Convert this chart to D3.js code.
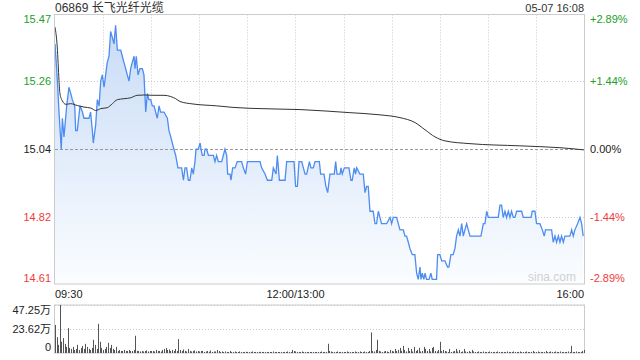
<!DOCTYPE html>
<html><head><meta charset="utf-8">
<script src="https://cdn.jsdelivr.net/npm/d3@7"></script>
<style>body{margin:0;background:#fff}svg{display:block}</style>
</head><body>
<svg id="c" width="640" height="360"></svg>
<script>
const title = "06869 长飞光纤光缆";
const stamp = "05-07 16:08";
const prevClose = 15.04;
const priceTicks = [15.47, 15.26, 15.04, 14.82, 14.61];
const pctTicks = ["+2.89%", "+1.44%", "0.00%", "-1.44%", "-2.89%"];
const timeLabels = ["09:30", "12:00/13:00", "16:00"];
const volTickLabels = ["47.25万", "23.62万", "0"];
const volMax = 47.25;

// minutes since 09:30 (lunch removed) and last price
const priceMin = [0,1.5,2.5,3.9,4.6,5.6,7.3,8.7,9.8,10.8,12.3,12.9,13.9,15.6,17.1,18.1,21.2,22.2,23.3,23.9,25.4,26.4,27.5,28.5,29.5,30.6,31.6,32.6,33.7,34.7,35.8,36.8,37.8,38.9,41.0,42.0,43.0,44.1,45.1,46.2,47.2,48.2,49.3,49.9,50.7,51.8,53.0,54.5,55.5,56.6,57.6,58.6,59.7,60.7,61.8,62.8,63.8,64.9,65.9,68.0,70.1,71.1,72.2,74.2,75.3,76.7,
78.0,79.0,80.1,81.1,82.1,83.2,84.2,85.3,86.3,87.3,88.0,89.4,90.5,91.1,91.9,93.0,93.6,94.6,95.7,98.8,99.8,100.8,101.9,104.0,105.0,106.0,107.1,107.7,109.2,109.8,110.8,112.3,113.7,116.4,117.5,118.9,120.0,127.9,128.9,131.0,132.5,135.2,136.2,137.9,138.7,140.0,143.5,144.5,149.1,150.1,151.2,152.2,153.9,156.0,157.0,158.7,159.7,161.1,162.2,164.9,165.7,167.8,169.0,170.1,
171.5,174.2,175.1,175.9,177.8,178.4,179.2,180.5,183.4,184.6,185.4,186.7,187.5,188.2,190.2,192.3,193.4,194.4,195.4,196.5,197.5,198.5,199.6,200.6,201.7,202.7,203.7,206.9,209.0,210.0,211.0,213.1,215.2,217.3,218.3,219.3,220.4,221.4,222.9,224.5,225.6,226.6,227.7,228.3,229.1,230.1,230.8,231.8,233.3,234.5,235.3,238.0,238.7,240.1,241.2,243.2,244.9,245.7,247.0,248.4,249.5,
250.5,251.6,252.6,253.7,254.7,255.7,256.8,257.8,258.9,265.7,267.2,268.2,269.3,270.3,276.5,277.6,278.6,279.6,280.7,281.7,282.8,283.8,284.8,285.9,286.9,288.0,291.1,292.1,297.0,297.7,299.4,300.4,302.5,304.0,305.2,306.0,309.8,310.8,311.9,312.9,314.0,315.0,316.0,317.1,318.1,321.2,322.3,323.3,324.3,326.0,327.5,328.5,329.5];
const priceVal = [15.38,15.26,15.16,15.04,15.14,15.08,15.18,15.24,15.22,15.20,15.18,15.10,15.10,15.18,15.16,15.14,15.14,15.16,15.10,15.06,15.12,15.20,15.18,15.26,15.28,15.24,15.28,15.32,15.34,15.42,15.40,15.38,15.44,15.36,15.36,15.34,15.32,15.30,15.28,15.26,15.30,15.32,15.34,15.30,15.34,15.28,15.30,15.30,15.28,15.16,15.22,15.20,15.20,15.18,15.18,15.16,15.14,15.18,15.16,15.16,15.14,15.10,15.08,15.04,15.02,14.98,
14.98,14.98,14.94,14.98,14.98,14.94,14.94,14.98,14.96,15.00,15.04,15.04,15.06,15.04,15.02,15.02,15.04,15.04,15.02,15.02,15.00,15.02,15.00,15.00,15.02,15.04,15.02,14.96,14.96,14.94,14.98,14.98,15.00,15.00,14.98,14.96,15.00,15.00,14.98,14.96,14.94,14.94,14.98,14.96,15.02,14.94,14.94,15.00,15.00,14.92,14.92,15.00,15.00,14.96,14.96,15.00,14.98,14.98,15.00,15.00,14.96,14.96,14.92,14.90,
14.96,14.96,15.00,14.96,14.96,14.98,14.96,14.98,14.98,14.94,14.94,14.98,14.96,14.98,14.96,14.96,14.90,14.92,14.92,14.84,14.84,14.84,14.80,14.80,14.84,14.82,14.80,14.80,14.82,14.80,14.82,14.82,14.78,14.78,14.76,14.76,14.74,14.72,14.70,14.70,14.64,14.62,14.66,14.62,14.64,14.62,14.64,14.62,14.62,14.64,14.62,14.62,14.70,14.70,14.68,14.68,14.66,14.66,14.70,14.70,14.72,
14.76,14.78,14.76,14.80,14.76,14.78,14.80,14.78,14.76,14.76,14.80,14.80,14.84,14.82,14.82,14.86,14.86,14.82,14.84,14.82,14.84,14.82,14.84,14.82,14.82,14.84,14.84,14.82,14.82,14.84,14.84,14.80,14.80,14.78,14.76,14.78,14.78,14.74,14.76,14.74,14.76,14.74,14.76,14.74,14.76,14.76,14.78,14.76,14.78,14.80,14.82,14.80,14.76];

// average price line
const avgMin = [0,1.4,2.5,3.1,4.6,6.7,9.8,13.9,18.1,22.3,25.4,28.5,32.6,35.8,38.9,43.0,47.2,51.3,55.5,61.8,68.0,72.2,75.3,78,86.1,100.9,111,121.6,152.8,184,202.7,215.2,224.6,230.8,237,243.3,258.9,290,315,330];
const avgVal = [15.434,15.37,15.262,15.219,15.196,15.185,15.187,15.181,15.176,15.173,15.165,15.171,15.174,15.187,15.20,15.203,15.206,15.214,15.215,15.214,15.214,15.210,15.203,15.194,15.186,15.18,15.175,15.172,15.168,15.158,15.151,15.142,15.126,15.103,15.08,15.067,15.058,15.051,15.045,15.038];

// volume per minute (万股)
const volume = [27.6,15.6,8,47.25,11,14.7,9,6,24.4,5,
4,6,3,4,8,3,5,7,4,9, 6,4,3,5,13,8,4,28.7,11,5, 3,4,6,10,5,8,4,3,6,2,
3,2,2,3,2,2,3,2,2,3, 17,2,2,1.5,2,1.5,2,2.5,1.5,2, 2,2,1.5,3,2,2,1.5,3,4,5,
3,3.5,2,3,2,4,2,13.7,3,2, 3.5,2,1.5,4,2,1.5,2,2.5,1.5,2, 1.5,2,2,1,1.5,2,1.2,2.5,1,1.5,
1.5,3,2,1,1.5,1,1.5,1,1,2, 1,1,1.5,1,1,1.5,1,1,1,1.2, 1,1,1,1.5,1,1,1,1,1.2,1,
1,1,1,1,1,1,1.5,1,1,1, 1,1,1,1,1,1.5,1,1,3,2, 1.5,1,1,1,1.5,1,1,1,1,1,
1,1,1,1,1,1,1.5,1,1,1, 9.1,2,1.5,1,1,1,1.5,1,1,1, 1,1,1.5,1,1,1,1,1.5,1,1,
1.5,1,1,1.5,1,1,2,20.2,2,1.5, 3,13,2,1.5,1,1.5,2,1.5,1,3, 2,1.5,4,2,3,5,2,7,3,1.5,
5,2,4,1.5,6,2,3,5,1.5,2, 6,4,2,4,1.5,5,6,2,1.5,3, 11,2,3,2,1.5,1,4,1,1.5,2,
4,1.5,3,1,1.5,4,1.5,1,2,1, 3,1.5,1,1,1.5,1,1,1.5,1,1, 1,1.5,1,1,1,1,1.5,1,1,1,
1,1,1.5,1,1,1,1.5,1,1,1, 1.5,1,1,1,1.5,1,1,1,2,1, 1,1.5,1,1,1,1,2,1,1,1.5,
1,1,1.5,1,1,1.5,1,1,1,1, 1.5,1,7,1,1,1.5,1,1,1,2, 3];

const svg = d3.select("#c");
const L = 55, R = 584, T = 14.5, B = 284;
const VT = 305, VB = 353;
const green = "#22a02a", red = "#ee3b3b", dark = "#222";
const font = "'Liberation Sans', Arial, sans-serif";

const x = d3.scaleLinear().domain([0, 330]).range([L, R]);
const y = d3.scaleLinear().domain([prevClose * (1 - 0.0289), prevClose * (1 + 0.0289)]).range([B, T]);
const yv = d3.scaleLinear().domain([0, volMax]).range([VB, VT]);

const defs = svg.append("defs");
const grad = defs.append("linearGradient").attr("id", "g").attr("gradientUnits", "userSpaceOnUse")
  .attr("x1", 0).attr("x2", 0).attr("y1", T).attr("y2", B);
grad.append("stop").attr("offset", 0).attr("stop-color", "#c6daf6");
grad.append("stop").attr("offset", 1).attr("stop-color", "#fbfdff");

// title + stamp
svg.append("text").attr("x", L).attr("y", 12).attr("font-family", "'Liberation Sans','Noto Sans CJK SC',sans-serif")
  .attr("font-size", 12).attr("fill", "#333").text(title);
svg.append("text").attr("x", R).attr("y", 12).attr("text-anchor", "end").attr("font-family", font)
  .attr("font-size", 11).attr("fill", "#333").text(stamp);

// vertical grid
const vTicks = d3.range(30, 330, 30);
svg.append("g").selectAll("line").data(vTicks).join("line")
  .attr("x1", d => Math.round(x(d)) + 0.5).attr("x2", d => Math.round(x(d)) + 0.5)
  .attr("y1", T).attr("y2", B).attr("stroke", "#c8c8c8").attr("stroke-dasharray", "1,2");
// horizontal grid
svg.append("g").selectAll("line").data([priceTicks[1], priceTicks[3]]).join("line")
  .attr("x1", L).attr("x2", R).attr("y1", d => Math.round(y(d)) + 0.5).attr("y2", d => Math.round(y(d)) + 0.5)
  .attr("stroke", "#c8c8c8").attr("stroke-dasharray", "1,2");

const pts = priceMin.map((m, i) => ({m, p: priceVal[i]}));
svg.append("path").datum(pts)
  .attr("d", d3.area().x(d => x(d.m)).y0(B).y1(d => y(d.p)))
  .attr("fill", "url(#g)");

svg.append("line").attr("x1", L).attr("x2", R).attr("y1", Math.round(y(prevClose)) + 0.5).attr("y2", Math.round(y(prevClose)) + 0.5)
  .attr("stroke", "#999").attr("stroke-dasharray", "3,2");

svg.append("path").datum(pts)
  .attr("d", d3.line().x(d => x(d.m)).y(d => y(d.p)))
  .attr("fill", "none").attr("stroke", "#4d8cf0").attr("stroke-width", 1.3);

const avg = avgMin.map((m, i) => ({m, p: avgVal[i]}));
svg.append("path").datum(avg)
  .attr("d", d3.line().curve(d3.curveMonotoneX).x(d => x(d.m)).y(d => y(d.p)))
  .attr("fill", "none").attr("stroke", "#333").attr("stroke-width", 1);

// border
svg.append("rect").attr("x", L - 0.5).attr("y", T).attr("width", R - L + 1).attr("height", B - T)
  .attr("fill", "none").attr("stroke", "#ccc");

// watermark
svg.append("text").attr("x", 576).attr("y", 281).attr("text-anchor", "end").attr("font-family", font)
  .attr("font-size", 12).attr("fill", "#d0d0d0").text("sina.com");

// left price labels
const colorOf = i => i < 2 ? green : (i === 2 ? dark : red);
const labY = (v, i) => i === 0 ? T + 8 : (i === 4 ? B - 2 : y(v) + 4);
svg.append("g").selectAll("text").data(priceTicks).join("text")
  .attr("x", 51).attr("y", (d, i) => labY(d, i)).attr("text-anchor", "end")
  .attr("font-family", font).attr("font-size", 11).attr("fill", (d, i) => colorOf(i))
  .text(d => d.toFixed(2));
svg.append("g").selectAll("text").data(pctTicks).join("text")
  .attr("x", 590).attr("y", (d, i) => labY(priceTicks[i], i)).attr("text-anchor", "start")
  .attr("font-family", font).attr("font-size", 11).attr("fill", (d, i) => colorOf(i))
  .text(d => d);

// time labels
svg.append("text").attr("x", L).attr("y", 298).attr("font-family", font).attr("font-size", 11).attr("fill", dark).text(timeLabels[0]);
svg.append("text").attr("x", x(150)).attr("y", 298).attr("text-anchor", "middle").attr("font-family", font).attr("font-size", 11).attr("fill", dark).text(timeLabels[1]);
svg.append("text").attr("x", R).attr("y", 298).attr("text-anchor", "end").attr("font-family", font).attr("font-size", 11).attr("fill", dark).text(timeLabels[2]);

// volume panel
svg.append("rect").attr("x", L - 0.5).attr("y", VT).attr("width", R - L + 1).attr("height", VB - VT)
  .attr("fill", "none").attr("stroke", "#ccc");
svg.append("line").attr("x1", L).attr("x2", R).attr("y1", Math.round(yv(volMax / 2)) + 0.5).attr("y2", Math.round(yv(volMax / 2)) + 0.5)
  .attr("stroke", "#c8c8c8").attr("stroke-dasharray", "1,2");
svg.append("line").attr("x1", L).attr("x2", R).attr("y1", VT + 0.5).attr("y2", VT + 0.5)
  .attr("stroke", "#c8c8c8").attr("stroke-dasharray", "1,2");
svg.append("g").selectAll("line").data(volume).join("line")
  .attr("x1", (d, i) => Math.round(x(i)) + 0.5).attr("x2", (d, i) => Math.round(x(i)) + 0.5)
  .attr("y1", VB).attr("y2", d => yv(d)).attr("stroke", "#555").attr("stroke-width", 1);
const vlabY = [VT + 9, yv(volMax / 2) + 4, VB - 2];
svg.append("g").selectAll("text").data(volTickLabels).join("text")
  .attr("x", 51).attr("y", (d, i) => vlabY[i]).attr("text-anchor", "end")
  .attr("font-family", "'Liberation Sans','Noto Sans CJK SC',sans-serif").attr("font-size", 11).attr("fill", dark)
  .text(d => d);
</script>
</body></html>
